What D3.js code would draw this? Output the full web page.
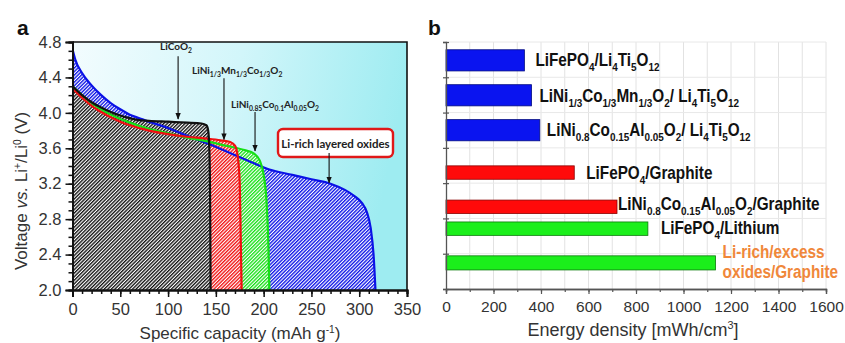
<!DOCTYPE html>
<html><head><meta charset="utf-8">
<script src="https://cdn.jsdelivr.net/npm/d3@7"></script>
<style>
html,body{margin:0;padding:0;background:#fff;}
svg{display:block;font-family:"Liberation Sans",Arial,sans-serif;}
</style></head><body>
<svg id="chart" width="845" height="343"></svg>
<script>
// ---------- Panel a: discharge curves, [capacity (mAh/g), voltage (V)] ----------
const curveLiCoO2 = [[0,4.30],[10,4.20],[20,4.12],[30,4.06],[40,4.01],[50,3.97],[60,3.94],[68,3.92],[80,3.91],[100,3.90],[120,3.89],[135,3.88],[140,3.86],[142,3.80],[143.3,3.55],[144,3.0],[144.5,2.0]];
const curveNMC = [[0,4.28],[10,4.17],[20,4.08],[30,4.01],[40,3.95],[50,3.90],[60,3.86],[80,3.80],[100,3.76],[120,3.73],[140,3.71],[155,3.69],[165,3.67],[170,3.63],[173,3.50],[175,3.20],[176,2.60],[177,2.0]];
const curveNCA = [[0,4.30],[20,4.11],[40,3.98],[60,3.89],[80,3.82],[100,3.77],[120,3.72],[140,3.68],[160,3.63],[180,3.58],[190,3.54],[196,3.46],[200,3.30],[203,3.0],[205,2.5],[206,2.0]];
const curveLiRich = [[0,4.72],[3,4.60],[10,4.45],[20,4.31],[30,4.20],[40,4.11],[50,4.04],[60,3.98],[70,3.94],[80,3.90],[100,3.83],[120,3.74],[140,3.66],[160,3.57],[175,3.50],[190,3.43],[206,3.36],[230,3.30],[250,3.25],[270,3.20],[285,3.13],[295,3.06],[303,2.98],[308,2.88],[312,2.70],[315,2.40],[317,2.0]];
const curveNames = ["LiCoO_{2}", "LiNi_{1/3}Mn_{1/3}Co_{1/3}O_{2}", "LiNi_{0.85}Co_{0.1}Al_{0.05}O_{2}", "Li-rich layered oxides"];
const capacityTicks = [0,50,100,150,200,250,300,350];
const voltageTicks = [2.0,2.4,2.8,3.2,3.6,4.0,4.4,4.8];

// ---------- Panel b: volumetric energy density of full cells ----------
const cellNames = [
  "LiFePO_{4}/Li_{4}Ti_{5}O_{12}",
  "LiNi_{1/3}Co_{1/3}Mn_{1/3}O_{2}/ Li_{4}Ti_{5}O_{12}",
  "LiNi_{0.8}Co_{0.15}Al_{0.05}O_{2}/ Li_{4}Ti_{5}O_{12}",
  "LiFePO_{4}/Graphite",
  "LiNi_{0.8}Co_{0.15}Al_{0.05}O_{2}/Graphite",
  "LiFePO_{4}/Lithium",
  "Li-rich/excess\noxides/Graphite"
];
const energyDensity = [330, 360, 395, 540, 720, 850, 1135];
const cellGroup = [0, 0, 0, 1, 1, 2, 2];
const energyTicks = [0,200,400,600,800,1000,1200,1400,1600];

// ---------- shared helpers ----------
const svg = d3.select("#chart");
const defs = svg.append("defs");

// Text with _{sub}, ^{sup} and *italic* markup
function rich(textSel, markup, fs, subScale = 0.65) {
  const parts = markup.split(/(_\{[^}]*\}|\^\{[^}]*\}|\*[^*]*\*)/).filter(s => s.length);
  let cur = 0;
  parts.forEach(p => {
    let kind = "n", t = p;
    if (p.startsWith("_{")) { kind = "sub"; t = p.slice(2, -1); }
    else if (p.startsWith("^{")) { kind = "sup"; t = p.slice(2, -1); }
    else if (p.length > 1 && p.startsWith("*") && p.endsWith("*")) { kind = "i"; t = p.slice(1, -1); }
    const target = kind === "sub" ? fs * 0.28 : kind === "sup" ? -fs * 0.38 : 0;
    const ts = textSel.append("tspan").text(t).attr("dy", target - cur);
    if (kind === "sub" || kind === "sup") ts.attr("font-size", fs * subScale);
    if (kind === "i") ts.attr("font-style", "italic");
    cur = target;
  });
}

// ================= Panel a =================
const xA = d3.scaleLinear().domain([0, 350]).range([72.5, 407]);
const yA = d3.scaleLinear().domain([2.0, 4.8]).range([290, 42]);

const bg = defs.append("linearGradient").attr("id", "bgA")
  .attr("x1", "0").attr("y1", "0").attr("x2", "1").attr("y2", "0.15");
bg.append("stop").attr("offset", "0").attr("stop-color", "#f3fcfe");
bg.append("stop").attr("offset", "0.5").attr("stop-color", "#d2f6fa");
bg.append("stop").attr("offset", "1").attr("stop-color", "#9eecf1");

defs.append("clipPath").attr("id", "clipA").append("rect")
  .attr("x", xA(0)).attr("y", yA(4.8)).attr("width", xA(350) - xA(0)).attr("height", yA(2.0) - yA(4.8));

function hatch(id, color) {
  const w = 2.5;
  const p = defs.append("pattern").attr("id", id).attr("patternUnits", "userSpaceOnUse")
    .attr("width", w).attr("height", w).attr("patternTransform", "rotate(45)");
  p.append("rect").attr("width", w).attr("height", w).attr("fill", "#fff");
  p.append("rect").attr("width", 1.35).attr("height", w).attr("fill", color);
}
const seriesA = [
  { data: curveLiRich, color: "#0b12e6", id: "hB" },
  { data: curveNCA, color: "#16e016", id: "hG" },
  { data: curveNMC, color: "#f01010", id: "hR" },
  { data: curveLiCoO2, color: "#111111", id: "hK" }
];
seriesA.forEach(s => hatch(s.id, s.color));

const gA = svg.append("g");
gA.append("rect").attr("x", xA(0)).attr("y", yA(4.8))
  .attr("width", xA(350) - xA(0)).attr("height", yA(2.0) - yA(4.8)).attr("fill", "url(#bgA)");

const area = d3.area().x(d => xA(d[0])).y0(yA(2.0)).y1(d => yA(d[1])).curve(d3.curveMonotoneX);
const line = d3.line().x(d => xA(d[0])).y(d => yA(d[1])).curve(d3.curveMonotoneX);

const plotA = gA.append("g").attr("clip-path", "url(#clipA)");
seriesA.forEach(s => plotA.append("path").attr("d", area(s.data)).attr("fill", `url(#${s.id})`));
seriesA.forEach(s => plotA.append("path").attr("d", line(s.data)).attr("fill", "none")
  .attr("stroke", s.color).attr("stroke-width", 2.2).attr("stroke-linejoin", "round"));

// Frame (top and right)
gA.append("path").attr("d", `M${xA(0)},${yA(4.8)}H${xA(350)}V${yA(2.0)}`)
  .attr("fill", "none").attr("stroke", "#111").attr("stroke-width", 1.6);

// Axes
const minorCap = d3.range(0, 351, 10);
const minorV = d3.range(20, 49, 1).map(v => v / 10);
const axXminor = gA.append("g").attr("transform", `translate(0,${yA(2.0)})`)
  .call(d3.axisBottom(xA).tickValues(minorCap).tickSize(4).tickFormat(""));
const axX = gA.append("g").attr("transform", `translate(0,${yA(2.0)})`)
  .call(d3.axisBottom(xA).tickValues(capacityTicks).tickSize(7).tickPadding(6).tickFormat(d3.format("d")));
const axYminor = gA.append("g").attr("transform", `translate(${xA(0)},0)`)
  .call(d3.axisLeft(yA).tickValues(minorV).tickSize(4).tickFormat(""));
const axY = gA.append("g").attr("transform", `translate(${xA(0)},0)`)
  .call(d3.axisLeft(yA).tickValues(voltageTicks).tickSize(7).tickPadding(4).tickFormat(d3.format(".1f")));
[axXminor, axX, axYminor, axY].forEach(a => {
  a.select(".domain").attr("stroke", "#111").attr("stroke-width", 2);
  a.selectAll(".tick line").attr("stroke", "#111").attr("stroke-width", 1.5);
  a.selectAll(".tick text").attr("fill", "#333").attr("font-size", 16.5).attr("font-family", "Liberation Sans, Arial, sans-serif");
});

// Axis titles
rich(gA.append("text").attr("x", 240).attr("y", 339).attr("text-anchor", "middle")
  .attr("font-size", 17).attr("fill", "#333"), "Specific capacity (mAh g^{-1})", 17, 0.6);
rich(gA.append("text").attr("transform", "translate(27,191) rotate(-90)").attr("text-anchor", "middle")
  .attr("font-size", 17).attr("fill", "#333"), "Voltage *vs.* Li^{+}/Li^{0} (V)", 17, 0.6);

svg.append("text").attr("x", 17).attr("y", 35).attr("font-size", 21).attr("font-weight", "bold").attr("fill", "#111").text("a");

// Annotations: label anchor and arrow in data coordinates
defs.append("marker").attr("id", "arr").attr("viewBox", "0 0 10 10").attr("refX", 9).attr("refY", 5)
  .attr("markerWidth", 6).attr("markerHeight", 6).attr("orient", "auto")
  .append("path").attr("d", "M0,1L10,5L0,9z").attr("fill", "#111");
const notes = [
  { name: curveNames[0], cap: 110.5, vTop: 4.64, vTip: 3.93, dx: -18, vText: 4.66 },
  { name: curveNames[1], cap: 158.5, vTop: 4.39, vTip: 3.70, dx: -32, vText: 4.39 },
  { name: curveNames[2], cap: 191, vTop: 4.01, vTip: 3.57, dx: -24, vText: 4.01 }
];
notes.forEach(n => {
  gA.append("line").attr("x1", xA(n.cap)).attr("x2", xA(n.cap))
    .attr("y1", yA(n.vTop)).attr("y2", yA(n.vTip)).attr("stroke", "#111").attr("stroke-width", 1.1)
    .attr("marker-end", "url(#arr)");
  rich(gA.append("text").attr("x", xA(n.cap) + n.dx).attr("y", yA(n.vText) - 4)
    .attr("font-family", "Lato, 'Open Sans', sans-serif").attr("font-weight", "bold")
    .attr("font-size", 10).attr("fill", "#222"), n.name, 10, 0.68);
});
// Boxed label for the Li-rich curve
const boxCx = 335.5, boxCy = 143;
gA.append("rect").attr("x", boxCx - 57.5).attr("y", boxCy - 14).attr("width", 115).attr("height", 28)
  .attr("rx", 5).attr("fill", "#fff").attr("stroke", "#e01818").attr("stroke-width", 2.4);
gA.append("text").attr("x", boxCx).attr("y", boxCy + 4.5).attr("text-anchor", "middle")
  .attr("font-family", "Lato, 'Open Sans', sans-serif").attr("font-weight", "bold")
  .attr("font-size", 11.5).attr("fill", "#222").text(curveNames[3]);
gA.append("line").attr("x1", xA(268.5)).attr("x2", xA(268.5))
  .attr("y1", boxCy + 10).attr("y2", yA(3.21)).attr("stroke", "#111").attr("stroke-width", 1.1)
  .attr("marker-end", "url(#arr)");

// ================= Panel b =================
const xB = d3.scaleLinear().domain([0, 1600]).range([446, 826]);
const yB = d3.scaleLinear().domain([0, 7]).range([42, 289]);
const groupColor = ["#0a14f0", "#ff0a0a", "#1bef1b"];
const groupStroke = ["#000a80", "#8a0000", "#0a7a0a"];
// bar placement in row units, label offsets in px
const rowCenter = [0.52, 1.51, 2.5, 3.7, 4.67, 5.29, 6.26];
const rowThick = [0.6, 0.6, 0.6, 0.38, 0.38, 0.38, 0.4];
const labelDx = [11, 8, 7, 12, 1, 13, 7];
const labelDy = [5.5, 6.5, 6, 6.5, 3, 5.5, -5];

const gB = svg.append("g");
// grid
gB.append("g").selectAll("line").data(d3.range(100, 1601, 100)).join("line")
  .attr("x1", d => xB(d)).attr("x2", d => xB(d)).attr("y1", yB(0)).attr("y2", yB(7))
  .attr("stroke", "#e2e2e2").attr("stroke-width", 1);
gB.append("g").selectAll("line").data(d3.range(0, 7)).join("line")
  .attr("x1", xB(0)).attr("x2", xB(1600)).attr("y1", d => yB(d)).attr("y2", d => yB(d))
  .attr("stroke", "#e8e8e8").attr("stroke-width", 1);

const cells = cellNames.map((name, i) => ({ name, value: energyDensity[i], group: cellGroup[i], i }));
gB.selectAll("rect.bar").data(cells).join("rect").attr("class", "bar")
  .attr("x", xB(0)).attr("width", d => xB(d.value) - xB(0))
  .attr("y", d => yB(rowCenter[d.i] - rowThick[d.i] / 2))
  .attr("height", d => yB(rowThick[d.i]) - yB(0))
  .attr("fill", d => groupColor[d.group]).attr("stroke", d => groupStroke[d.group]).attr("stroke-width", 0.8);

const axBminor = gB.append("g").attr("transform", `translate(0,${yB(7)})`)
  .call(d3.axisBottom(xB).tickValues(d3.range(0, 1601, 100)).tickSize(3).tickFormat(""));
const axB = gB.append("g").attr("transform", `translate(0,${yB(7)})`)
  .call(d3.axisBottom(xB).tickValues(energyTicks).tickSize(5).tickPadding(7).tickFormat(d3.format("d")));
const axBy = gB.append("g").attr("transform", `translate(${xB(0)},0)`)
  .call(d3.axisLeft(yB).tickValues(d3.range(0, 8)).tickSize(3).tickFormat(""));
axBy.selectAll(".tick line").attr("x2", 3).attr("x1", -3);
[axBminor, axB, axBy].forEach(a => {
  a.select(".domain").attr("stroke", "#555").attr("stroke-width", 1.3);
  a.selectAll(".tick line").attr("stroke", "#555").attr("stroke-width", 1.2);
  a.selectAll(".tick text").attr("fill", "#333").attr("font-size", 15.5).attr("font-family", "Liberation Sans, Arial, sans-serif");
});

rich(gB.append("text").attr("x", 633).attr("y", 336).attr("text-anchor", "middle")
  .attr("font-size", 18).attr("fill", "#333"), "Energy density [mWh/cm^{3}]", 18, 0.6);
svg.append("text").attr("x", 428).attr("y", 35).attr("font-size", 21).attr("font-weight", "bold").attr("fill", "#111").text("b");

// bar labels (condensed bold)
cells.forEach(d => {
  const lines = d.name.split("\n");
  const color = lines.length > 1 ? "#f0873a" : "#111";
  lines.forEach((ln, k) => {
    const t = gB.append("text")
      .attr("transform", `translate(${xB(d.value) + labelDx[d.i]},${yB(rowCenter[d.i]) + labelDy[d.i] + k * 20}) scale(0.85,1)`)
      .attr("font-size", 18).attr("font-weight", "bold").attr("fill", color);
    rich(t, ln, 18, 0.65);
  });
});
</script>
</body></html>
